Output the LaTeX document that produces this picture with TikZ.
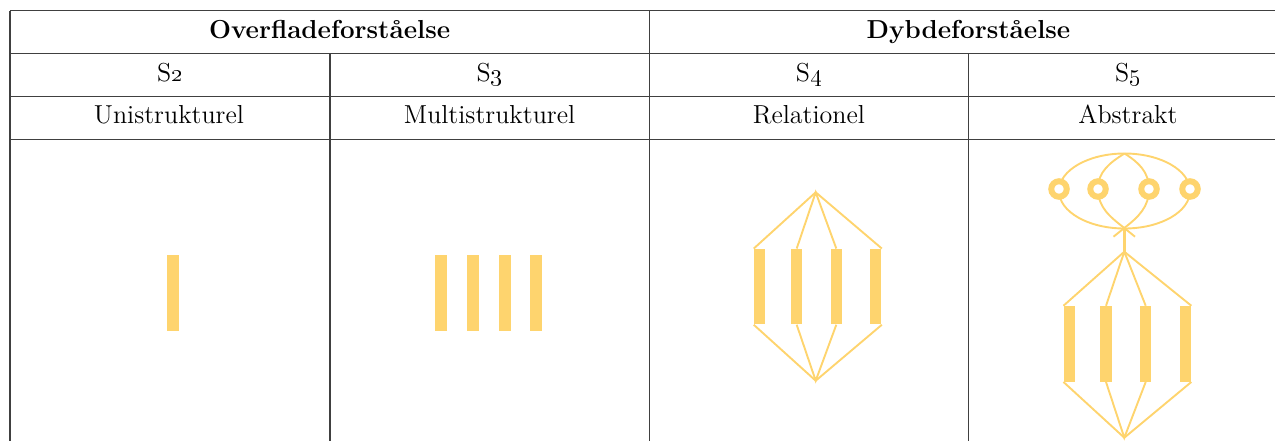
\documentclass[tikz,border=0pt]{standalone}
\definecolor{yel}{RGB}{254,212,110}
\definecolor{rule}{RGB}{64,64,64}
\begin{document}
\begin{tikzpicture}[x=0.5pt,y=0.5pt,
  gridline/.style={draw=rule,line width=0.6pt},
  lbl/.style={anchor=base,inner sep=0pt,font=\fontsize{13}{15}\selectfont},
  hdr/.style={lbl,font=\fontsize{13}{15}\selectfont\bfseries},
  barA/.style={fill=yel,draw=none,inner sep=0pt,minimum width=6pt,minimum height=38pt},
  barB/.style={fill=yel,draw=none,inner sep=0pt,minimum width=5.65pt,minimum height=37.7pt},
  yl/.style={draw=yel,line width=0.95pt},
  ring/.style={circle,draw=yel,fill=white,line width=3pt,inner sep=0pt,minimum size=7.75pt}]
\useasboundingbox (0,0) rectangle (1275,441);
% table grid
\draw[gridline] (10,430.3) -- (1275,430.3);
\draw[gridline] (10,387.7) -- (1275,387.7);
\draw[gridline] (10,344.3) -- (1275,344.3);
\draw[gridline] (10,301.7) -- (1275,301.7);
\draw[gridline] (10,430.3) -- (10,0);
\draw[gridline] (649.3,430.3) -- (649.3,0);
\draw[gridline] (330,387.7) -- (330,0);
\draw[gridline] (968.5,387.7) -- (968.5,0);
% texts
\node[hdr] (h1) at (329.6,402.3) {Overfladeforståelse};
\node[hdr] (h2) at (968.5,402.3) {Dybdeforståelse};
\node[lbl] (s2) at (170,360) {S\oldstylenums{2}};
\node[lbl] (s3) at (489.6,360) {S\oldstylenums{3}};
\node[lbl] (s4) at (808.9,360) {S\oldstylenums{4}};
\node[lbl] (s5) at (1128,360) {S\oldstylenums{5}};
\node[lbl] (l2) at (169,317.3) {Unistrukturel};
\node[lbl] (l3) at (489.6,317.3) {Multistrukturel};
\node[lbl] (l4) at (808.9,317.3) {Relationel};
\node[lbl] (l5) at (1128,317.3) {Abstrakt};
% S2
\node[barA] (u1) at (173,148) {};
% S3
\node[barA] (m1) at (441,148) {};
\node[barA] (m2) at (473,148) {};
\node[barA] (m3) at (505,148) {};
\node[barA] (m4) at (536,148) {};
% S4
\node[barB] (r1) at (759.8,154.35) {};
\node[barB] (r2) at (796.7,154.35) {};
\node[barB] (r3) at (836.3,154.35) {};
\node[barB] (r4) at (875.8,154.35) {};
\coordinate (rt) at (815.7,248.7);
\coordinate (rb) at (815.7,60.3);
\draw[yl] (r1.north west) -- (rt) -- (r4.north east);
\draw[yl] (r2.north) -- (rt) -- (r3.north);
\draw[yl] (r1.south west) -- (rb) -- (r4.south east);
\draw[yl] (r2.south) -- (rb) -- (r3.south);
% S5
\node[barB] (a1) at (1069.5,97.15) {};
\node[barB] (a2) at (1106,97.15) {};
\node[barB] (a3) at (1145.7,97.15) {};
\node[barB] (a4) at (1185.3,97.15) {};
\coordinate (at) at (1124.3,189.3);
\coordinate (ab) at (1124.3,3.3);
\draw[yl] (a1.north west) -- (at) -- (a4.north east);
\draw[yl] (a2.north) -- (at) -- (a3.north);
\draw[yl] (a1.south west) -- (ab) -- (a4.south east);
\draw[yl] (a2.south) -- (ab) -- (a3.south);
\coordinate (x0) at (1124.3,213);
\coordinate (et) at (1124.5,287.5);
\coordinate (c1) at (1059,252);
\coordinate (c2) at (1098,252);
\coordinate (c3) at (1149,252);
\coordinate (c4) at (1190,252);
\coordinate (chl) at (1113.5,204.3);
\coordinate (chr) at (1135,204.3);
\draw[draw=yel,line width=1.75pt] (x0) -- (at);
\draw[yl] (1124.5,250) ellipse [x radius=32.75pt, y radius=18.75pt];
\draw[yl] (et) to[out=212,in=90] (c2) to[out=-90,in=142] (x0) -- (chr);
\draw[yl] (et) to[out=-32,in=90] (c3) to[out=-90,in=38] (x0) -- (chl);
\node[ring] (o1) at (c1) {};
\node[ring] (o2) at (c2) {};
\node[ring] (o3) at (c3) {};
\node[ring] (o4) at (c4) {};
\end{tikzpicture}
\end{document}
